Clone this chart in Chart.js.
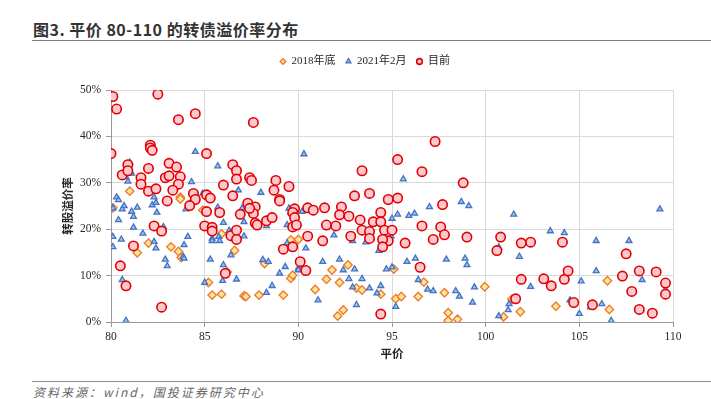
<!DOCTYPE html>
<html>
<head>
<meta charset="utf-8">
<script src="https://cdn.jsdelivr.net/npm/chart.js@4/dist/chart.umd.min.js"></script>
<style>
  html, body { margin: 0; padding: 0; background: #fff; width: 711px; height: 399px; overflow: hidden; }
  #title { position: absolute; left: 33px; top: 17px; font: bold 16px "Noto Sans CJK SC", sans-serif; color: #333; letter-spacing: 0.5px; white-space: nowrap; }
  #topline { position: absolute; left: 32px; top: 40px; width: 679px; height: 0; border-top: 1.5px solid #7f7f7f; }
  #botline { position: absolute; left: 32px; top: 381px; width: 679px; height: 0; border-top: 1.5px solid #8c8c8c; }
  #source { position: absolute; left: 33px; top: 383px; font: italic 12px "Noto Sans CJK SC", sans-serif; color: #666; letter-spacing: 2px; white-space: nowrap; }
  #wrap { position: absolute; left: 0; top: 46px; width: 744px; height: 324px; }
</style>
</head>
<body>
<div id="title">图3. 平价 80-110 的转债溢价率分布</div>
<div id="topline"></div>
<div id="wrap"><canvas id="c"></canvas></div>
<div id="botline"></div>
<div id="source">资料来源：wind，国投证券研究中心</div>
<script>
// ---- data ----
const seriesNames = ['2018年底', '2021年2月', '目前'];
const xTicks = [80, 85, 90, 95, 100, 105, 110];
const yTicks = [0, 10, 20, 30, 40, 50];

const parity2018 = [81.0,83.7,83.7,80.1,84.9,82.0,81.4,83.2,83.6,83.75,85.2,85.4,85.9,85.9,86.2,86.6,87.1,87.2,87.9,88.2,89.2,89.6,89.6,89.7,90.0,90.9,91.5,91.8,92.2,92.65,93.1,93.4,92.4,92.1,94.4,95.1,95.2,95.5,96.4,96.7,97.8,98.0,98.0,98.5,99.95,101.4,101.85,100.95,103.75,106.5,106.6];
const premium2018 = [28.2,26.9,26.5,24.6,24.1,17.0,14.9,16.2,15.2,13.9,8.5,5.8,6.0,19.0,10.8,15.4,5.6,5.5,5.8,12.6,5.8,17.7,9.4,10.1,17.8,7.0,9.2,11.2,8.5,12.3,7.3,6.9,2.6,1.3,6.0,11.4,5.0,5.5,5.5,8.6,6.3,2.0,0.3,0.6,7.6,4.9,2.2,1.1,3.4,8.9,2.7];

const parity2021 = [81.0,84.5,85.7,81.1,80.8,80.9,84.3,84.9,86.8,88.0,80.3,80.4,82.3,82.2,82.4,80.7,81.4,85.7,87.0,89.5,80.1,80.4,80.6,81.1,81.2,80.1,80.1,80.55,81.2,81.7,82.45,82.3,82.4,82.9,83.0,82.8,83.9,83.85,83.9,84.1,84.0,80.6,80.8,85.0,85.3,85.4,85.4,85.75,85.8,86.0,86.0,85.96,86.3,86.4,86.4,86.7,87.1,87.1,88.1,88.4,88.3,88.6,88.3,89.0,89.3,89.4,89.4,90.0,90.0,90.3,95.6,97.0,98.7,99.1,89.6,90.2,95.0,95.3,95.9,96.2,94.95,94.3,92.9,91.9,93.6,90.4,91.3,92.2,92.4,93.0,92.7,93.4,92.9,93.8,94.2,94.4,94.7,95.0,95.8,96.25,96.4,96.9,97.2,97.9,98.9,99.0,98.4,98.6,99.4,99.3,91.05,93.1,95.2,101.5,103.45,104.2,105.9,107.65,109.3,100.7,101.8,102.4,101.25,101.2,100.7,105.1,105.9,104.5,105.0,105.6,106.2,106.7,108.35,109.6];
const premium2021 = [34.4,36.7,33.6,32.0,31.2,30.3,30.2,27.7,28.4,27.9,26.9,26.3,26.9,25.2,25.7,25.0,24.7,24.7,24.5,24.5,24.5,22.0,24.3,23.8,22.7,18.4,16.2,17.8,20.4,19.1,23.6,17.3,15.9,13.5,12.1,20.5,16.6,14.1,13.7,18.4,24.3,9.1,0.3,8.5,13.5,18.0,17.5,18.4,17.5,21.4,12.3,8.9,19.7,19.3,14.4,9.2,21.6,18.5,13.4,13.0,6.3,7.8,20.7,10.5,11.9,17.0,20.9,11.6,11.2,36.2,30.8,24.8,25.9,25.0,23.6,23.8,22.3,23.2,22.9,23.4,18.5,15.4,17.5,18.7,17.2,15.9,13.0,13.5,11.2,11.4,9.3,9.3,7.5,7.3,6.2,7.8,11.4,11.8,13.0,13.7,9.1,7.0,6.7,13.5,13.7,12.3,6.7,5.5,7.5,4.2,4.7,3.7,3.3,23.2,19.6,19.2,17.5,17.5,24.3,16.1,14.1,7.6,3.9,2.6,1.3,8.8,11.0,4.7,1.8,3.2,3.9,0.3,9.1,7.0];

const parityNow = [80.1,80.3,80.0,82.5,83.6,84.5,87.6,85.1,82.1,82.1,82.2,80.6,80.9,80.9,81.6,81.6,82.0,82.0,82.4,83.1,83.5,82.9,83.1,83.7,83.6,83.3,83.0,84.4,84.5,84.2,85.1,85.3,86.5,86.7,86.7,86.5,86.0,87.4,87.5,87.3,87.7,88.7,88.8,89.0,89.0,89.5,89.8,85.1,85.8,85.0,85.4,85.4,82.3,82.7,81.2,80.5,80.8,82.7,86.1,86.4,86.7,86.7,86.9,87.6,87.4,87.7,87.8,88.3,88.6,89.2,89.7,89.7,89.7,89.8,89.9,90.1,97.3,95.3,93.4,96.6,98.8,93.0,93.8,94.8,95.3,97.7,90.5,90.8,91.4,92.3,94.4,92.2,92.7,93.3,94.0,94.4,90.5,91.3,91.5,92.0,92.8,93.4,93.8,93.8,94.6,95.0,94.8,94.5,94.5,95.7,96.6,97.6,97.8,97.2,99.0,90.4,96.5,94.4,100.8,100.6,101.9,102.4,104.1,101.9,103.1,103.5,104.2,104.4,101.6,104.7,105.7,107.5,107.3,108.2,107.8,109.1,109.6,109.6,108.2,108.9];
const premiumNow = [48.6,45.9,36.3,49.1,43.6,44.9,43.0,36.3,38.1,37.5,37.0,31.7,33.9,32.6,31.1,29.7,33.1,28.2,28.7,34.2,33.4,31.1,31.5,31.3,29.7,28.4,26.1,27.7,26.4,25.1,27.4,26.7,33.9,32.6,30.8,27.2,29.5,31.1,30.5,25.6,24.8,28.4,30.5,26.4,26.1,29.2,24.4,23.8,23.6,20.7,20.4,19.6,20.7,19.6,16.4,12.1,7.8,3.2,10.5,18.6,19.8,17.8,23.2,23.4,24.5,21.3,20.9,21.8,22.5,15.7,16.2,23.6,20.5,22.5,20.9,13.0,38.9,35.0,32.6,32.4,30.0,27.2,27.7,26.4,26.7,25.3,24.6,24.1,24.6,24.8,23.6,23.1,22.8,22.0,21.6,21.6,18.5,17.5,20.9,20.7,18.5,19.8,19.5,18.0,19.8,19.8,17.5,17.8,16.2,17.0,20.7,20.5,18.8,17.8,18.3,11.1,11.8,1.7,18.3,15.4,17.0,17.2,17.2,9.2,9.3,7.8,9.2,11.0,5.0,4.2,3.7,14.7,9.9,11.0,6.6,10.8,8.4,6.0,2.7,1.9];

function pts(xs, ys) { return xs.map((x, i) => ({ x: x, y: ys[i] })); }

// legend box taller so the plot starts lower
const legendSpacer = {
  id: 'legendSpacer',
  beforeInit(chart) {
    const orig = chart.legend.fit;
    chart.legend.fit = function () { orig.call(this); this.height += 13; };
  }
};

const serif = "'Liberation Serif', 'Noto Sans CJK SC', serif";

new Chart(document.getElementById('c'), {
  type: 'scatter',
  data: {
    datasets: [
      { label: seriesNames[0], data: pts(parity2018, premium2018), order: 3,
        pointStyle: 'rectRot', pointRadius: 4.2, borderWidth: 1.4,
        borderColor: '#ED7D31', backgroundColor: '#FFE699' },
      { label: seriesNames[1], data: pts(parity2021, premium2021), order: 2,
        pointStyle: 'triangle', pointRadius: 3.4, borderWidth: 1.3,
        borderColor: '#4472C4', backgroundColor: '#9DC3E6' },
      { label: seriesNames[2], data: pts(parityNow, premiumNow), order: 1,
        pointStyle: 'circle', pointRadius: 4.7, borderWidth: 1.6,
        borderColor: '#E00000', backgroundColor: '#FFC7CE' }
    ]
  },
  options: {
    responsive: true,
    maintainAspectRatio: false,
    animation: false,
    events: [],
    layout: { padding: { left: 57, right: 71, top: 0, bottom: 0 } },
    plugins: {
      tooltip: { enabled: false },
      legend: {
        position: 'top',
        labels: {
          usePointStyle: true, boxWidth: 6, boxHeight: 4, padding: 10,
          color: '#262626', font: { family: serif, size: 11 },
          sort: (a, b) => a.datasetIndex - b.datasetIndex
        }
      }
    },
    scales: {
      x: {
        type: 'linear', min: xTicks[0], max: xTicks[xTicks.length - 1],
        afterBuildTicks: (s) => { s.ticks = xTicks.map(v => ({ value: v })); },
        afterFit: (s) => { s.height = 48; },
        ticks: { color: '#262626', font: { family: serif, size: 11.5 }, padding: 3 },
        grid: { color: '#D9D9D9', lineWidth: 1, tickLength: 5, tickColor: '#999999' },
        border: { color: '#999999', width: 1 },
        title: { display: true, text: '平价', color: '#262626',
          font: { family: "'Noto Sans CJK SC', sans-serif", size: 11.5, weight: 'bold' },
          padding: { top: 0, bottom: 9 } }
      },
      y: {
        type: 'linear', min: yTicks[0], max: yTicks[yTicks.length - 1],
        afterBuildTicks: (s) => { s.ticks = yTicks.map(v => ({ value: v })); },
        afterFit: (s) => { s.width = 54; },
        ticks: { color: '#262626', font: { family: serif, size: 11.5 }, padding: 5,
          callback: (v) => v + '%' },
        grid: { color: '#D9D9D9', lineWidth: 1, tickLength: 5, tickColor: '#999999' },
        border: { color: '#999999', width: 1 },
        title: { display: true, text: '转股溢价率', color: '#262626',
          font: { family: "'Noto Sans CJK SC', sans-serif", size: 11.5, weight: 'bold' },
          padding: { top: 4, bottom: 0 } }
      }
    }
  },
  plugins: [legendSpacer]
});
</script>
</body>
</html>
